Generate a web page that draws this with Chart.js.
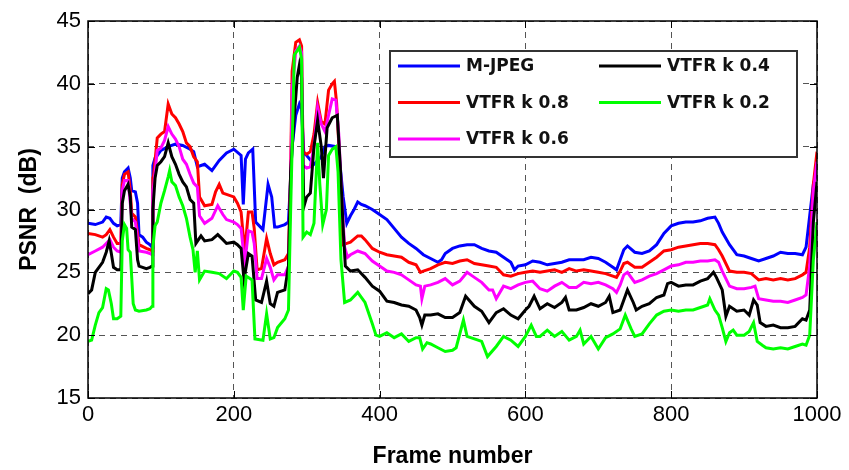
<!DOCTYPE html>
<html>
<head>
<meta charset="utf-8">
<script src="https://cdn.jsdelivr.net/npm/chart.js@4.4.0/dist/chart.umd.min.js"></script>
<style>
  html, body { margin: 0; padding: 0; background: #fff; }
</style>
</head>
<body>
<canvas id="psnrChart" width="849" height="470"></canvas>
<script>
// [frame, PSNR in dB] pairs
const mjpeg = [[0,28.9],[10,28.8],[20,29.0],[25,29.4],[30,29.3],[35,28.9],[40,28.7],[45,28.8],[47,32.5],[50,33.0],[55,33.3],[58,32.5],[60,31.5],[65,31.4],[68,30.5],[70,28.0],[75,27.8],[80,27.4],[85,27.2],[88,27.0],[89,33.5],[92,34.1],[95,34.3],[100,34.7],[110,35.0],[120,35.2],[130,35.1],[140,34.8],[145,34.6],[150,33.4],[160,33.6],[170,33.1],[180,33.9],[190,34.5],[200,34.8],[210,34.3],[213,30.4],[216,34.0],[220,34.5],[226,34.8],[230,29.0],[240,28.4],[247,32.0],[252,31.0],[256,28.6],[260,28.6],[270,28.8],[275,29.0],[280,35.0],[285,37.5],[290,38.4],[293,38.0],[296,34.5],[300,34.3],[310,33.6],[320,34.2],[325,35.0],[330,35.1],[340,35.0],[345,34.0],[350,31.0],[355,28.9],[360,29.5],[365,30.0],[370,30.6],[375,30.4],[380,30.3],[390,30.0],[400,29.6],[410,29.2],[420,28.5],[430,27.8],[440,27.3],[450,26.9],[460,26.4],[470,26.1],[480,25.8],[485,26.0],[490,26.5],[500,26.9],[510,27.1],[520,27.2],[530,27.2],[540,26.9],[550,26.7],[560,26.6],[570,26.2],[580,25.8],[585,25.2],[590,25.5],[600,25.6],[610,25.9],[620,25.8],[630,25.6],[640,25.7],[650,25.8],[660,26.0],[670,26.0],[680,26.0],[690,26.2],[700,26.1],[710,25.8],[720,25.4],[725,25.2],[730,26.0],[735,26.8],[740,27.1],[750,26.6],[760,26.5],[770,26.7],[780,27.2],[790,28.1],[800,28.7],[810,28.9],[820,29.0],[830,29.0],[840,29.1],[850,29.3],[860,29.4],[865,28.9],[870,28.2],[880,27.2],[890,26.4],[900,26.3],[910,26.1],[920,25.9],[930,26.1],[940,26.3],[950,26.6],[960,26.5],[970,26.5],[980,26.4],[985,27.0],[990,29.5],[995,32.0],[1000,33.0]];

const vtfr08 = [[0,28.1],[10,28.0],[20,27.8],[25,28.0],[30,28.4],[35,27.8],[40,27.3],[45,27.3],[47,32.0],[50,32.8],[55,33.0],[58,31.5],[60,29.7],[65,29.4],[70,27.2],[80,26.9],[85,26.8],[88,26.7],[89,32.5],[90,32.7],[95,35.7],[100,36.0],[105,36.2],[110,38.4],[115,37.6],[120,37.3],[125,36.8],[130,36.2],[135,35.3],[140,35.0],[145,34.2],[150,33.8],[153,31.0],[160,30.3],[170,30.4],[175,31.4],[180,32.0],[185,31.3],[190,31.2],[200,31.0],[205,30.5],[210,29.8],[215,26.6],[220,29.8],[225,29.8],[228,28.5],[232,25.2],[238,25.3],[245,27.7],[250,26.5],[255,25.6],[260,25.8],[270,26.0],[275,26.5],[278,33.0],[280,41.0],[285,43.3],[290,43.5],[293,43.0],[295,34.6],[300,34.4],[305,34.6],[310,36.0],[315,38.5],[320,37.0],[325,36.8],[330,39.5],[335,40.0],[338,40.2],[341,38.5],[344,35.2],[348,29.0],[350,27.2],[355,27.3],[360,27.4],[370,27.9],[375,27.9],[380,27.6],[390,26.9],[400,26.6],[410,26.4],[420,26.3],[430,26.2],[440,25.8],[450,25.6],[456,25.0],[460,25.1],[470,25.3],[480,25.6],[490,25.8],[500,25.7],[510,25.9],[520,26.0],[530,25.7],[540,25.6],[550,25.5],[560,25.4],[570,24.8],[580,24.7],[590,24.9],[600,25.0],[610,25.1],[620,25.0],[630,25.1],[640,25.2],[650,25.0],[660,25.3],[670,25.1],[680,25.2],[690,25.1],[700,25.0],[710,24.9],[720,24.7],[725,24.6],[730,25.1],[735,25.7],[740,25.8],[750,25.4],[760,25.4],[770,25.8],[780,26.2],[790,26.7],[800,26.8],[810,27.0],[820,27.1],[830,27.2],[840,27.3],[850,27.3],[860,27.2],[865,26.8],[870,26.3],[880,25.1],[890,25.0],[900,25.0],[910,24.9],[920,24.4],[930,24.5],[940,24.4],[950,24.5],[960,24.4],[970,24.5],[980,24.8],[985,25.0],[990,27.0],[995,32.0],[1000,34.6]];

const vtfr06 = [[0,26.4],[10,26.7],[20,27.0],[25,27.3],[30,27.6],[35,27.0],[40,26.7],[45,26.6],[47,31.5],[50,32.3],[55,32.3],[58,30.5],[60,29.3],[65,29.0],[70,26.7],[80,26.6],[85,26.5],[88,26.4],[89,31.5],[90,31.8],[95,34.7],[100,34.9],[105,35.5],[110,36.6],[115,36.0],[120,35.6],[125,35.0],[130,34.0],[135,33.6],[140,32.8],[145,32.1],[150,31.8],[153,29.5],[160,28.9],[170,29.3],[178,30.3],[185,29.6],[190,29.2],[200,29.0],[205,28.8],[210,28.5],[215,25.6],[220,28.3],[225,28.2],[228,27.3],[232,24.5],[238,24.5],[245,26.1],[250,25.4],[255,24.4],[260,24.8],[270,24.8],[275,25.5],[278,32.0],[280,39.5],[285,42.6],[290,43.0],[293,42.5],[295,33.5],[300,33.3],[305,33.4],[310,35.0],[315,38.1],[320,36.8],[325,36.2],[330,37.5],[335,38.8],[340,38.7],[344,36.0],[348,31.0],[352,27.0],[356,26.2],[360,26.4],[370,26.7],[380,26.5],[390,25.9],[400,25.5],[410,25.1],[420,25.0],[430,24.8],[440,24.4],[450,24.0],[456,23.9],[458,22.9],[462,23.9],[470,24.0],[480,24.2],[490,24.5],[500,24.0],[510,24.3],[520,25.0],[530,24.6],[540,24.2],[550,23.6],[555,23.6],[560,22.9],[570,23.9],[580,23.7],[590,24.0],[600,24.2],[610,24.3],[620,23.7],[630,23.5],[640,23.9],[650,24.2],[660,23.8],[670,23.8],[680,24.2],[690,24.1],[700,24.2],[710,24.0],[720,23.7],[725,23.4],[730,24.0],[735,24.8],[740,25.0],[750,24.2],[760,24.4],[770,24.7],[780,24.9],[790,25.2],[800,25.5],[810,25.6],[820,25.8],[830,25.8],[840,25.9],[850,25.9],[860,26.0],[865,25.8],[870,25.1],[880,23.9],[890,23.7],[900,23.7],[910,23.8],[915,23.9],[920,22.9],[930,22.8],[940,22.7],[950,22.7],[960,22.6],[970,22.8],[980,23.0],[985,23.2],[990,25.5],[995,31.5],[1000,33.8]];

const vtfr04 = [[0,23.3],[5,23.6],[10,25.0],[15,25.4],[20,25.8],[25,26.6],[29,27.5],[32,26.5],[35,25.4],[40,25.2],[45,25.2],[47,30.5],[50,31.5],[55,32.0],[58,31.0],[60,28.6],[65,28.4],[68,26.0],[70,25.5],[80,25.3],[85,25.4],[88,25.5],[89,30.0],[92,32.5],[95,33.5],[100,33.8],[105,34.2],[110,35.3],[115,34.2],[120,33.6],[125,32.8],[130,32.2],[135,31.8],[140,30.8],[145,30.5],[148,27.3],[155,27.9],[160,27.5],[170,27.6],[178,28.0],[185,27.6],[190,27.3],[200,27.4],[205,27.2],[210,26.9],[214,24.4],[220,26.5],[225,26.3],[230,22.8],[238,22.6],[245,24.3],[250,22.5],[255,22.3],[260,23.4],[270,23.6],[275,25.5],[278,33.0],[282,36.7],[287,40.5],[290,41.5],[293,40.5],[296,30.2],[300,31.0],[305,31.3],[310,35.0],[315,37.1],[320,35.0],[323,32.5],[328,36.5],[335,37.3],[342,37.5],[346,33.5],[350,28.5],[353,25.5],[360,25.1],[370,25.2],[380,24.6],[390,23.9],[400,23.5],[410,22.7],[420,22.6],[430,22.4],[440,22.3],[450,22.0],[455,21.4],[458,20.8],[462,21.6],[470,21.6],[480,21.7],[490,21.4],[500,21.4],[510,21.8],[518,23.1],[530,22.3],[540,21.9],[550,21.0],[560,21.8],[570,22.1],[580,21.6],[590,21.3],[600,22.0],[605,22.3],[612,23.1],[620,22.1],[630,22.5],[640,22.2],[650,22.6],[655,23.0],[660,22.0],[670,22.0],[680,22.2],[690,22.5],[700,22.3],[710,22.6],[715,23.1],[720,21.8],[730,22.0],[740,23.6],[748,22.6],[752,22.0],[760,22.3],[770,22.5],[780,23.0],[790,23.2],[795,24.1],[800,24.2],[810,23.9],[820,24.0],[830,24.0],[840,24.3],[850,24.5],[858,25.0],[862,24.6],[870,23.6],[875,21.5],[880,22.3],[890,21.9],[900,22.0],[907,21.6],[913,22.8],[918,22.4],[922,21.0],[930,20.7],[940,20.8],[950,20.6],[960,20.6],[970,20.7],[980,21.3],[985,21.2],[990,22.0],[995,29.0],[1000,32.2]];

const vtfr02 = [[0,19.5],[5,19.6],[10,20.8],[15,21.8],[20,22.2],[25,23.7],[28,23.6],[32,22.5],[35,21.3],[40,21.3],[45,21.5],[47,27.5],[50,28.8],[53,28.5],[55,26.8],[58,26.6],[62,22.5],[65,22.0],[70,21.9],[80,22.0],[85,22.1],[88,22.3],[89,27.0],[92,28.7],[95,29.0],[100,30.5],[105,31.5],[110,32.6],[112,33.1],[115,32.2],[120,31.9],[125,31.0],[130,30.3],[135,29.3],[140,27.8],[144,26.8],[147,25.0],[150,26.7],[153,24.4],[160,25.1],[170,25.0],[180,24.9],[190,24.5],[200,25.1],[205,25.0],[210,24.6],[213,22.0],[217,24.7],[225,24.4],[229,19.7],[240,19.6],[245,21.7],[250,19.7],[255,19.8],[260,20.6],[270,21.3],[275,22.0],[278,30.0],[283,42.3],[290,42.9],[293,42.0],[295,27.8],[300,28.2],[305,28.0],[310,28.9],[315,35.3],[318,32.0],[322,28.8],[327,30.0],[330,34.3],[335,34.8],[340,35.0],[343,33.0],[347,26.0],[352,22.6],[360,22.8],[370,23.4],[380,22.6],[390,20.9],[395,20.0],[400,19.9],[410,20.2],[420,19.8],[430,20.1],[440,19.5],[450,19.8],[455,19.8],[459,18.9],[465,19.4],[470,19.3],[480,19.0],[490,18.7],[500,18.8],[505,19.0],[515,21.2],[520,19.9],[530,19.7],[540,19.5],[548,18.3],[560,19.1],[570,19.9],[580,19.6],[590,19.1],[600,19.9],[608,20.8],[615,19.9],[620,19.9],[630,20.4],[640,19.9],[650,20.3],[660,19.6],[670,19.9],[675,20.4],[680,19.3],[690,19.9],[700,18.9],[710,19.8],[720,20.1],[730,20.5],[737,21.6],[745,20.5],[750,19.9],[760,20.1],[770,20.9],[780,21.6],[790,21.9],[800,22.0],[810,21.9],[820,22.0],[830,22.0],[840,22.2],[850,22.4],[853,22.9],[860,22.0],[865,21.6],[870,20.6],[875,19.5],[880,20.2],[885,20.4],[890,20.0],[900,20.0],[907,20.3],[913,21.0],[918,19.5],[925,19.2],[930,19.0],[940,18.9],[950,19.0],[960,18.9],[970,19.1],[980,19.3],[985,19.2],[990,20.0],[995,26.0],[1000,29.0]];

const seriesNames = ['M-JPEG', 'VTFR k 0.8', 'VTFR k 0.6', 'VTFR k 0.4', 'VTFR k 0.2'];
const seriesColors = ['#0000ff', '#ff0000', '#ff00ff', '#000000', '#00ff00'];
const xTicks = [0, 200, 400, 600, 800, 1000];
const yTicks = [15, 20, 25, 30, 35, 40, 45];

const allSeries = [mjpeg, vtfr08, vtfr06, vtfr04, vtfr02];

const axisFont = '"Liberation Sans", Arial, sans-serif';

// frame + inward ticks + legend, drawn matlab style
const matlabBox = {
  id: 'matlabBox',
  afterDraw(chart) {
    const { ctx, chartArea: a, scales } = chart;
    ctx.save();
    ctx.strokeStyle = '#000';
    ctx.lineWidth = 1.5;
    ctx.strokeRect(a.left, a.top, a.right - a.left, a.bottom - a.top);

    // ticks pointing inwards on all four sides
    ctx.lineWidth = 1;
    const tl = 7;
    ctx.beginPath();
    xTicks.forEach(v => {
      const x = Math.round(scales.x.getPixelForValue(v)) + 0.5;
      ctx.moveTo(x, a.bottom); ctx.lineTo(x, a.bottom - tl);
      ctx.moveTo(x, a.top); ctx.lineTo(x, a.top + tl);
    });
    yTicks.forEach(v => {
      const y = Math.round(scales.y.getPixelForValue(v)) + 0.5;
      ctx.moveTo(a.left, y); ctx.lineTo(a.left + tl, y);
      ctx.moveTo(a.right, y); ctx.lineTo(a.right - tl, y);
    });
    ctx.stroke();

    // legend box, 3 rows x 2 columns
    const bx = a.left + 302, by = a.top + 30, bw = 407, bh = 106;
    ctx.fillStyle = '#fff';
    ctx.fillRect(bx, by, bw, bh);
    ctx.strokeStyle = '#333';
    ctx.lineWidth = 2;
    ctx.strokeRect(bx, by, bw, bh);
    ctx.font = 'bold 17px "DejaVu Sans"';
    ctx.textBaseline = 'middle';
    seriesNames.forEach((name, i) => {
      const col = Math.floor(i / 3), row = i % 3;
      const lx = bx + 8 + col * 201;
      const ly = by + 15 + row * 36.5;
      ctx.strokeStyle = seriesColors[i];
      ctx.lineWidth = 3;
      ctx.beginPath();
      ctx.moveTo(lx, ly); ctx.lineTo(lx + 62, ly);
      ctx.stroke();
      ctx.fillStyle = '#111';
      ctx.fillText(name, lx + 68, ly + 1);
    });
    ctx.restore();
  }
};

const ctx = document.getElementById('psnrChart').getContext('2d');
new Chart(ctx, {
  type: 'line',
  data: {
    datasets: allSeries.map((s, i) => ({
      label: seriesNames[i],
      data: s.map(([x, y]) => ({ x, y })),
      borderColor: seriesColors[i],
      backgroundColor: seriesColors[i],
      borderWidth: 3,
      pointRadius: 0,
      tension: 0,
      fill: false,
      order: allSeries.length - i, // green on top
    })),
  },
  options: {
    responsive: false,
    animation: false,
    layout: { padding: { left: 0, right: 32, top: 21, bottom: 0 } },
    plugins: { legend: { display: false }, tooltip: { enabled: false } },
    scales: {
      x: {
        type: 'linear',
        min: 0,
        max: 1000,
        afterBuildTicks: s => { s.ticks = xTicks.map(v => ({ value: v })); },
        afterFit: s => { s.height = 72; },
        grid: { color: '#555', lineWidth: 1, drawTicks: false },
        border: { display: false, dash: [6, 5] },
        ticks: { color: '#000', padding: 4, maxRotation: 0,
          callback: v => String(v),
          font: { family: axisFont, size: 22 } },
        title: { display: true, text: 'Frame number', color: '#000',
          font: { family: axisFont, size: 23, weight: 'bold' },
          padding: { top: 1, bottom: 0 } },
      },
      y: {
        min: 15,
        max: 45,
        afterBuildTicks: s => { s.ticks = yTicks.map(v => ({ value: v })); },
        afterFit: s => { s.width = 88; },
        grid: { color: '#555', lineWidth: 1, drawTicks: false },
        border: { display: false, dash: [6, 5] },
        ticks: { color: '#000', padding: 7,
          callback: v => String(v),
          font: { family: axisFont, size: 22 } },
        title: { display: true, text: 'PSNR  (dB)', color: '#000',
          font: { family: axisFont, size: 23, weight: 'bold' },
          padding: { top: 16, bottom: 0 } },
      },
    },
  },
  plugins: [matlabBox],
});
</script>
</body>
</html>
